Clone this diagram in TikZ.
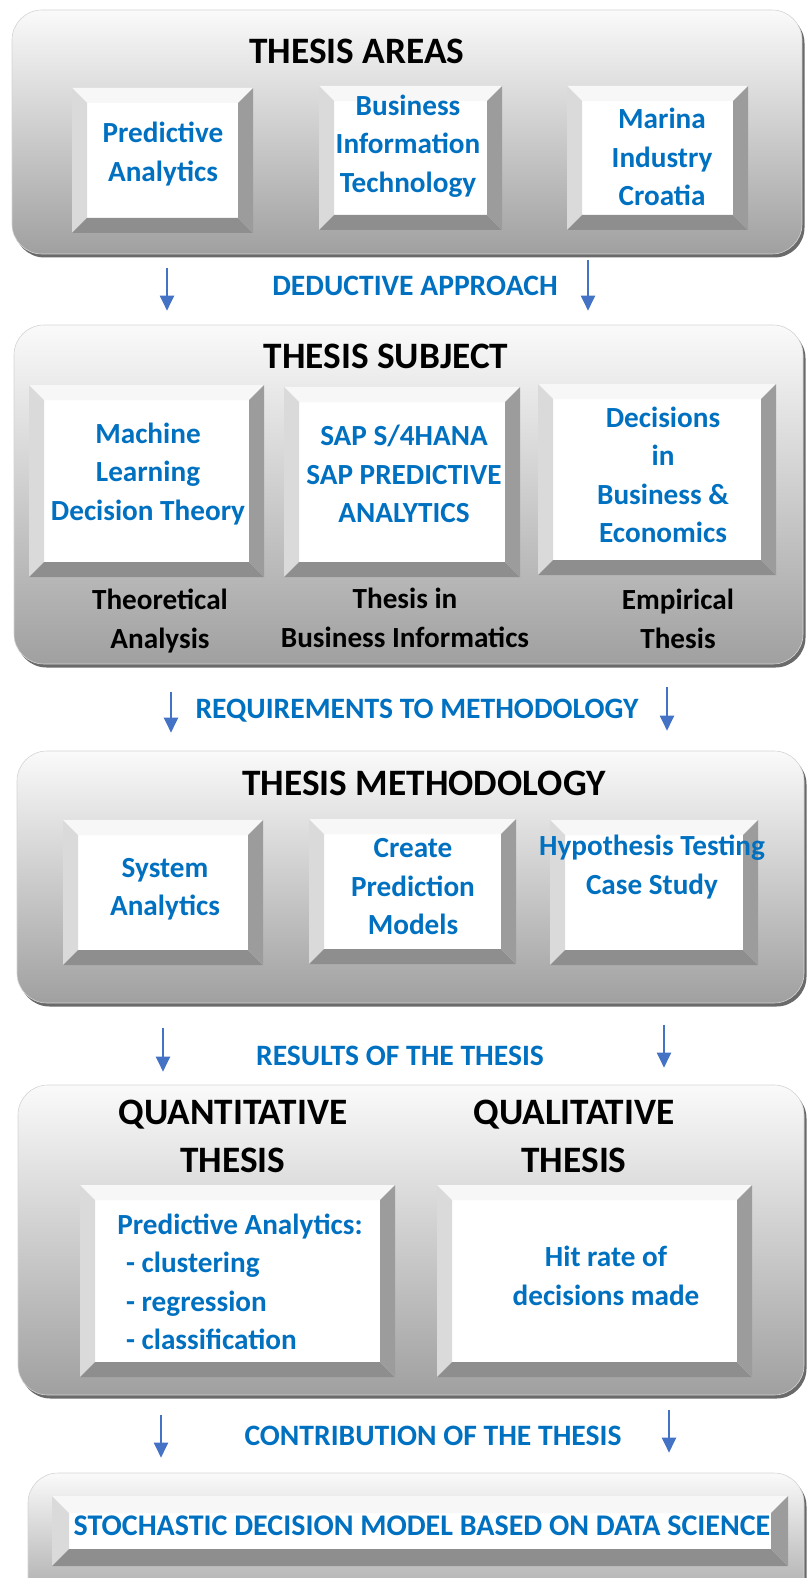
\documentclass[tikz,border=0pt]{standalone}
\usepackage{fontspec}
\setmainfont{Carlito}
\usepackage{tikz}
\usetikzlibrary{positioning,arrows.meta,shadows,calc}
\definecolor{TextBlue}{HTML}{0070C0}
\definecolor{ArrowBlue}{HTML}{4472C4}
\definecolor{PanelTop}{HTML}{FAFAFA}
\definecolor{PanelBottom}{HTML}{A0A0A0}
\definecolor{PanelShadow}{HTML}{6A6A6A}
\definecolor{PanelEdge}{HTML}{D4D4D4}
\definecolor{CapTop}{HTML}{F7F7F7}
\definecolor{CapLeft}{HTML}{DADADA}
\definecolor{CapRight}{HTML}{9C9C9C}
\definecolor{CapBottom}{HTML}{8E8E8E}

\begin{document}
\begin{tikzpicture}[
    x=1pt, y=-1pt,
    panel/.style={rectangle, rounded corners=30pt, top color=PanelTop, bottom color=PanelBottom,
        draw=PanelEdge, line width=0.6pt, inner sep=0pt,
        drop shadow={shadow xshift=2.5pt, shadow yshift=-3.5pt, fill=PanelShadow, opacity=1}},
    keycap/.style={rectangle, fill=white, inner sep=0pt,
        path picture={
            \path (path picture bounding box.north west) coordinate (kNW)
                  (path picture bounding box.north east) coordinate (kNE)
                  (path picture bounding box.south west) coordinate (kSW)
                  (path picture bounding box.south east) coordinate (kSE);
            \fill[CapTop] (kNW) -- (kNE) -- ([shift={(-#1,-#1)}]kNE) -- ([shift={(#1,-#1)}]kNW) -- cycle;
            \fill[CapLeft] (kNW) -- ([shift={(#1,-#1)}]kNW) -- ([shift={(#1,#1)}]kSW) -- (kSW) -- cycle;
            \fill[CapRight] (kNE) -- (kSE) -- ([shift={(-#1,#1)}]kSE) -- ([shift={(-#1,-#1)}]kNE) -- cycle;
            \fill[CapBottom] (kSW) -- ([shift={(#1,#1)}]kSW) -- ([shift={(-#1,#1)}]kSE) -- (kSE) -- cycle;
        }},
    keycap/.default=15pt,
    paneltitle/.style={font=\fontsize{37.3}{48}\selectfont\bfseries, text=black, align=center, inner sep=0pt},
    boxtext/.style={font=\fontsize{29.2}{38.5}\selectfont\bfseries, text=TextBlue, align=center, inner sep=0pt},
    thesiskind/.style={font=\fontsize{29.2}{39}\selectfont\bfseries, text=black, align=center, inner sep=0pt},
    steplabel/.style={font=\fontsize{29.6}{34}\selectfont\bfseries, text=TextBlue, inner sep=0pt},
    flowarrow/.style={-{Triangle[width=14pt,length=15pt]}, ArrowBlue, line width=2pt}
]
\useasboundingbox (0,0) rectangle (807,1578);
\clip (0,0) rectangle (807,1578);

% panels
\node[panel, minimum width=790pt, minimum height=244pt] (areas)   at (407,132)    {};
\node[panel, minimum width=789pt, minimum height=339pt] (subject) at (408.5,494.5) {};
\node[panel, minimum width=787pt, minimum height=252pt] (method)  at (410.5,877)  {};
\node[panel, minimum width=786pt, minimum height=310pt] (results) at (411,1240)   {};
\node[panel, minimum width=776pt, minimum height=144pt] (contrib) at (416,1545)   {};

% thesis areas
\node[paneltitle] (areas-title) at (357,51) {THESIS AREAS};
\node[keycap, minimum width=181pt, minimum height=145pt] (pa)  at (162.5,160.5) {};
\node[keycap, minimum width=183pt, minimum height=144pt] (bit) at (410.5,158) {};
\node[keycap, minimum width=181pt, minimum height=144pt] (mic) at (657.5,158) {};
\node[boxtext] (pa-text)  at (163,154) {Predictive\\Analytics};
\node[boxtext] (bit-text) at (408,146) {Business\\Information\\Technology};
\node[boxtext] (mic-text) at (662,157) {Marina\\Industry\\Croatia};

% thesis subject
\node[paneltitle] (subject-title) at (386,356) {THESIS SUBJECT};
\node[keycap, minimum width=235pt, minimum height=192pt] (ml)  at (146.5,481) {};
\node[keycap, minimum width=236pt, minimum height=190pt] (sap) at (402,482) {};
\node[keycap, minimum width=238pt, minimum height=191pt] (dec) at (657,479.5) {};
\node[boxtext] (ml-text)  at (148,474) {Machine\\Learning\\Decision Theory};
\node[boxtext] (sap-text) at (404,474) {SAP S/4HANA\\SAP PREDICTIVE\\ANALYTICS};
\node[boxtext] (dec-text) at (663,475) {Decisions\\in\\Business \&\\Economics};
\node[thesiskind] (theo)   at (160,621.5) {Theoretical\\Analysis};
\node[thesiskind] (bizinf) at (405,617.5) {Thesis in\\Business Informatics};
\node[thesiskind] (empir)  at (678,618.5) {Empirical\\Thesis};

% thesis methodology
\node[paneltitle] (method-title) at (424,783) {THESIS METHODOLOGY};
\node[keycap, minimum width=200pt, minimum height=145pt] (sys) at (163,892.5) {};
\node[keycap, minimum width=207pt, minimum height=145pt] (cpm) at (412.5,891.5) {};
\node[keycap, minimum width=208pt, minimum height=145pt] (hyp) at (654,892.5) {};
\node[boxtext] (sys-text) at (165,889) {System\\Analytics};
\node[boxtext] (cpm-text) at (413,887) {Create\\Prediction\\Models};
\node[boxtext] (hyp-text) at (652,867) {\makebox[0pt]{Hypothesis Testing}\\Case Study};

% results
\node[paneltitle] (quant-title) at (233,1136) {QUANTITATIVE\\THESIS};
\node[paneltitle] (qual-title)  at (574,1136) {QUALITATIVE\\THESIS};
\node[keycap, minimum width=315pt, minimum height=192pt] (quant) at (237.5,1281) {};
\node[keycap, minimum width=315pt, minimum height=192pt] (qual)  at (594.5,1281) {};
\node[boxtext, align=left] (quant-text) at (240,1282) {Predictive Analytics:\\\hspace*{0.3em}- clustering\\\hspace*{0.3em}- regression\\\hspace*{0.3em}- classification};
\node[boxtext] (qual-text) at (606,1276) {Hit rate of\\decisions made};

% contribution
\node[keycap=17pt, minimum width=736pt, minimum height=70pt] (sdm) at (420,1531) {};
\node[boxtext, font=\fontsize{30}{36}\selectfont\bfseries] (sdm-text) at (422,1526) {STOCHASTIC DECISION MODEL BASED ON DATA SCIENCE};

% steps between panels
\node[steplabel] (deduct)   at (415,286)  {DEDUCTIVE APPROACH};
\node[steplabel] (require)  at (417,711)  {REQUIREMENTS TO METHODOLOGY};
\node[steplabel] (outcome)  at (400,1056) {RESULTS OF THE THESIS};
\node[steplabel] (contribl) at (433,1436) {CONTRIBUTION OF THE THESIS};

\draw[flowarrow, shorten <=14pt, shorten >=14pt] (areas.south -| 167,0) -- (subject.north -| 167,0);
\draw[flowarrow, shorten <=6pt, shorten >=14pt] (areas.south -| 588,0) -- (subject.north -| 588,0);
\draw[flowarrow, shorten <=28pt, shorten >=18pt] (subject.south -| 171,0) -- (method.north -| 171,0);
\draw[flowarrow, shorten <=23pt, shorten >=20pt] (subject.south -| 667,0) -- (method.north -| 667,0);
\draw[flowarrow, shorten <=25pt, shorten >=13pt] (method.south -| 163,0) -- (results.north -| 163,0);
\draw[flowarrow, shorten <=22pt, shorten >=17pt] (method.south -| 664,0) -- (results.north -| 664,0);
\draw[flowarrow, shorten <=20pt, shorten >=15pt] (results.south -| 161,0) -- (contrib.north -| 161,0);
\draw[flowarrow, shorten <=15pt, shorten >=20pt] (results.south -| 669,0) -- (contrib.north -| 669,0);
\end{tikzpicture}
\end{document}
